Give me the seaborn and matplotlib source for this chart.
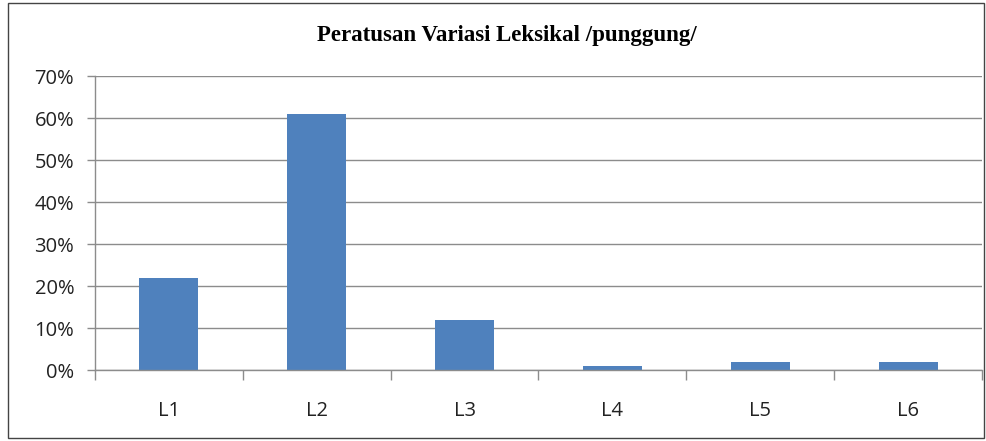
import matplotlib
matplotlib.use("Agg")
import matplotlib.pyplot as plt
import seaborn as sns
import pandas as pd
from matplotlib.patches import Rectangle
from matplotlib.ticker import FixedLocator

categories = ["L1", "L2", "L3", "L4", "L5", "L6"]
values = [22, 61, 12, 1, 2, 2]
y_ticks = [0, 10, 20, 30, 40, 50, 60, 70]
y_labels = ["0%", "10%", "20%", "30%", "40%", "50%", "60%", "70%"]
title = "Peratusan Variasi Leksikal /punggung/"

df = pd.DataFrame({"cat": categories, "val": values})

sns.set_theme(style="white")
plt.rcParams["font.family"] = ["Open Sans", "DejaVu Sans"]

W, H = 986, 441
fig = plt.figure(figsize=(W / 100, H / 100), dpi=100)
ax = fig.add_axes([95 / W, 1 - 370 / H, (982 - 95) / W, (370 - 76) / H])

sns.barplot(data=df, x="cat", y="val", color="#4F81BD", width=0.4,
            saturation=1, ax=ax, edgecolor="none")

ax.set_ylim(0, 70)
ax.set_xlim(-0.5, 5.5)
ax.set_yticks(y_ticks)
ax.set_yticklabels(y_labels, fontsize=14.5, color="#222222")
ax.yaxis.grid(True, color="#8c8c8c", linewidth=1)
ax.set_axisbelow(True)
ax.set_xlabel("")
ax.set_ylabel("")

ax.tick_params(axis="y", length=6, width=1, color="#8c8c8c", pad=9, left=True)
ax.tick_params(axis="x", which="major", length=0, pad=22, labelsize=14.5,
               labelcolor="#222222")
ax.xaxis.set_minor_locator(FixedLocator([i - 0.5 for i in range(len(categories) + 1)]))
ax.tick_params(axis="x", which="minor", length=7, width=1, color="#8c8c8c",
               bottom=True)

for s in ["top", "right"]:
    ax.spines[s].set_visible(False)
for s in ["left", "bottom"]:
    ax.spines[s].set_color("#8c8c8c")
    ax.spines[s].set_linewidth(1)

fig.text(507 / W, 1 - 35 / H, title, ha="center", va="center",
         fontsize=16.5, fontweight="bold", family=["Liberation Serif", "DejaVu Serif"],
         color="black")

fig.patches.append(Rectangle((8 / W, 3 / H), (984 - 8) / W, (438 - 3) / H,
                             transform=fig.transFigure, fill=False,
                             edgecolor="#444444", linewidth=1))

fig.savefig("out.png", dpi=100)
